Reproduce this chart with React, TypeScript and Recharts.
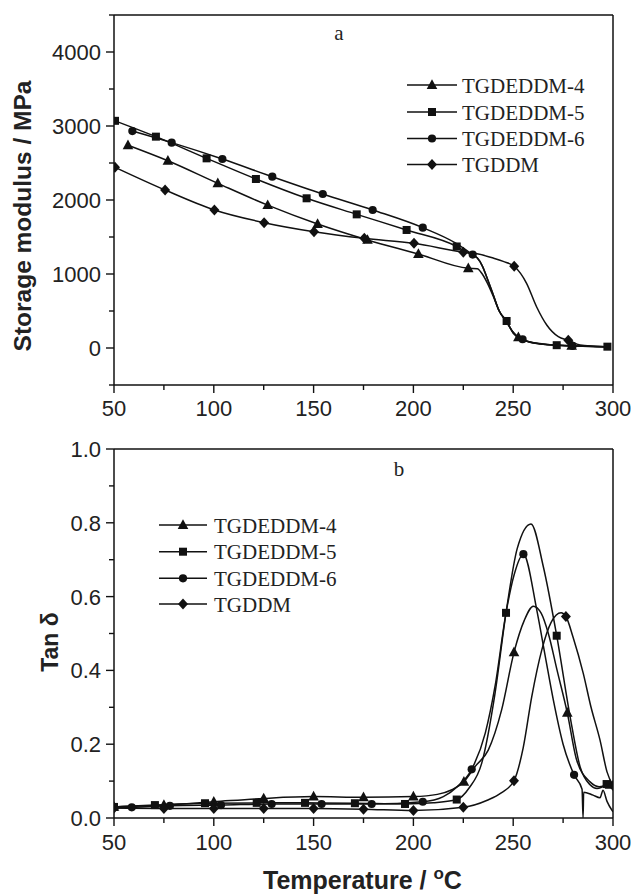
import React from 'react';
import { ComposedChart, Line, XAxis, YAxis, ReferenceLine, Label } from 'recharts';

// ---------- names ----------
const seriesNames = ['TGDEDDM-4', 'TGDEDDM-5', 'TGDEDDM-6', 'TGDDM'];
const shapes = ['triangle', 'square', 'circle', 'diamond'];

// ---------- axis ticks ----------
const tempTicks = [50, 75, 100, 125, 150, 175, 200, 225, 250, 275, 300];
const modulusTicks = [-500, 0, 500, 1000, 1500, 2000, 2500, 3000, 3500, 4000, 4500];
const tanTicks = [0, 0.1, 0.2, 0.3, 0.4, 0.5, 0.6, 0.7, 0.8, 0.9, 1.0];

// ---------- panel a: storage modulus (MPa) vs temperature (°C) ----------
const aE4Marks = [[57, 2740], [77, 2530], [102, 2225], [127, 1930], [152, 1675], [177, 1460], [202.5, 1270], [227.5, 1077], [252.6, 145], [279.3, 30]];
const aE4Curve = [[232, 1072], [234.5, 1000], [237, 880], [240, 700], [243, 500], [246.7, 350], [249.5, 230], [256, 100], [265, 55], [288, 22], [298, 18]];

const aE5Marks = [[50.5, 3070], [71, 2856], [96.4, 2563], [121.1, 2284], [146.5, 2023], [171.6, 1806], [196.6, 1595], [221.7, 1372], [246.7, 365], [271.8, 38], [297.2, 18]];
const aE5Curve = [[226, 1305], [229.5, 1255], [232, 1215], [234.5, 1110], [237, 940], [240, 720], [243, 500], [250, 200], [255, 110], [262, 62], [285, 22]];

const aE6Marks = [[59.2, 2932], [78.9, 2775], [104.3, 2554], [129.3, 2315], [154.6, 2081], [179.6, 1865], [204.7, 1626], [229.7, 1262], [254.7, 118], [279.7, 28]];
const aE6Curve = [[221, 1420], [232, 1218], [234.5, 1110], [237, 940], [240, 720], [243, 500], [246.7, 355], [250, 210], [262, 60], [290, 20], [298, 18]];

const aDMarks = [[50.5, 2442], [75.6, 2135], [100.3, 1865], [125.2, 1694], [150.2, 1572], [175.4, 1482], [200.3, 1414], [225, 1295], [250.5, 1104], [277.6, 105]];
const aDCurve = [[232.5, 1270], [240, 1215], [245, 1170], [256.7, 874], [261.7, 558], [266.8, 311], [272.6, 153], [283.5, 40], [290, 25], [298, 18]];

// ---------- panel b: tan delta vs temperature (°C) ----------
const bE4Marks = [[50, 0.03], [75, 0.035], [100, 0.044], [125, 0.053], [150, 0.058], [175, 0.056], [200, 0.058], [225.3, 0.098], [250.4, 0.449], [277.1, 0.285], [298.5, 0.09]];
const bE4Curve = [[212, 0.064], [219, 0.076], [231, 0.14], [237.5, 0.184], [244.2, 0.293], [255.5, 0.535], [260.1, 0.574], [264, 0.555], [267.6, 0.5], [272, 0.4], [281.8, 0.157], [288.5, 0.098], [293, 0.085]];

const bE5Marks = [[50, 0.03], [70.5, 0.035], [95.6, 0.04], [121.5, 0.041], [145.7, 0.041], [170.7, 0.04], [195.8, 0.038], [221.7, 0.05], [246.4, 0.556], [271.8, 0.494], [296.8, 0.092]];
const bE5Curve = [[210, 0.041], [228, 0.082], [234.2, 0.148], [240.9, 0.338], [252, 0.73], [258.9, 0.797], [265.1, 0.681], [278.5, 0.275], [283.5, 0.139], [288.5, 0.09], [292, 0.08]];

const bE6Marks = [[58.9, 0.029], [78, 0.033], [103.6, 0.035], [129, 0.038], [154, 0.038], [179.1, 0.038], [204.7, 0.044], [229.2, 0.132], [255.1, 0.715], [280.5, 0.117]];
const bE6Curve = [[50, 0.027], [215, 0.058], [222, 0.085], [236, 0.23], [241, 0.36], [246.4, 0.556], [250.5, 0.66], [261.8, 0.564], [266, 0.44], [270.1, 0.32], [275, 0.2], [284.5, 0.078], [285, 0.0], [285.3, 0.07], [290, 0.062], [293.5, 0.055], [295, 0.075], [297, 0.045], [300, 0.017]];

const bDMarks = [[50, 0.027], [75, 0.026], [100, 0.026], [125, 0.026], [150, 0.026], [175, 0.024], [200, 0.02], [225, 0.029], [250.4, 0.101], [276.4, 0.546], [300, 0.088]];
const bDCurve = [[237, 0.048], [244, 0.068], [255, 0.19], [259.3, 0.329], [264.3, 0.455], [269, 0.53], [274, 0.556], [280, 0.49], [285.1, 0.392], [289, 0.3], [293.5, 0.211], [297, 0.125]];

// ---------- helpers ----------
type Pt = { t: number; v: number; m: boolean };
const build = (marks: number[][], curve: number[][]): Pt[] =>
  [
    ...marks.map(([t, v]) => ({ t, v, m: true })),
    ...curve.map(([t, v]) => ({ t, v, m: false })),
  ].sort((a, b) => a.t - b.t);

const panelA = [build(aE4Marks, aE4Curve), build(aE5Marks, aE5Curve), build(aE6Marks, aE6Curve), build(aDMarks, aDCurve)];
const panelB = [build(bE4Marks, bE4Curve), build(bE5Marks, bE5Curve), build(bE6Marks, bE6Curve), build(bDMarks, bDCurve)];

const INK = '#111';
const SANS = '"Liberation Sans", Arial, Helvetica, sans-serif';
const SERIF = '"Liberation Serif", "Times New Roman", serif';

const Marker = ({ shape, cx, cy }: { shape: string; cx: number; cy: number }) => {
  if (shape === 'triangle')
    return <polygon points={`${cx},${cy - 5.8} ${cx - 5.3},${cy + 3.9} ${cx + 5.3},${cy + 3.9}`} fill={INK} />;
  if (shape === 'square') return <rect x={cx - 4} y={cy - 4} width={8} height={8} fill={INK} />;
  if (shape === 'circle') return <circle cx={cx} cy={cy} r={4.1} fill={INK} />;
  return <polygon points={`${cx},${cy - 5.5} ${cx + 5},${cy} ${cx},${cy + 5.5} ${cx - 5},${cy}`} fill={INK} />;
};

const dotFor = (shape: string) => (p: any) =>
  p.payload && p.payload.m && p.cx != null && p.cy != null ? (
    <Marker key={`d${p.index}`} shape={shape} cx={p.cx} cy={p.cy} />
  ) : (
    <g key={`d${p.index}`} />
  );

const makeXTick = (labelOffset: number) => (p: any) => {
  const v = p.payload.value;
  const major = v % 50 === 0;
  return (
    <g key={`xt${v}`}>
      <line x1={p.x} x2={p.x} y1={p.y} y2={p.y + (major ? 8 : 5)} stroke={INK} strokeWidth={1.4} />
      {major && (
        <text x={p.x} y={p.y + labelOffset} textAnchor="middle" fontSize={22} fontFamily={SANS} fill="#222">
          {v}
        </text>
      )}
    </g>
  );
};
const xTick = makeXTick(31);
const xTickB = makeXTick(32);

const yTickA = (p: any) => {
  const v = p.payload.value;
  const major = v % 1000 === 0;
  return (
    <g key={`ya${v}`}>
      <line x1={p.x} x2={p.x - (major ? 8 : 5)} y1={p.y} y2={p.y} stroke={INK} strokeWidth={1.4} />
      {major && (
        <text x={p.x - 13} y={p.y + 8} textAnchor="end" fontSize={22} fontFamily={SANS} fill="#222">
          {v}
        </text>
      )}
    </g>
  );
};

const yTickB = (p: any) => {
  const v = p.payload.value;
  const major = Math.round(v * 10) % 2 === 0;
  return (
    <g key={`yb${v}`}>
      <line x1={p.x} x2={p.x - (major ? 8 : 5)} y1={p.y} y2={p.y} stroke={INK} strokeWidth={1.4} />
      {major && (
        <text x={p.x - 13} y={p.y + 8} textAnchor="end" fontSize={22} fontFamily={SANS} fill="#222">
          {Number(v).toFixed(1)}
        </text>
      )}
    </g>
  );
};

const LegendBlock = ({ x1, x2, xm, xt, ys }: { x1: number; x2: number; xm: number; xt: number; ys: number[] }) => (
  <g>
    {seriesNames.map((n, i) => (
      <g key={n}>
        <line x1={x1} x2={x2} y1={ys[i]} y2={ys[i]} stroke={INK} strokeWidth={1.5} />
        <Marker shape={shapes[i]} cx={xm} cy={ys[i]} />
        <text x={xt} y={ys[i] + 7.5} fontSize={21} fontFamily={SERIF} fill="#222">
          {n}
        </text>
      </g>
    ))}
  </g>
);

const axisStyle = { stroke: INK, strokeWidth: 1.5 };

export default function App() {
  return (
    <div style={{ position: 'absolute', left: 0, top: 0, width: 636, height: 895, background: '#fff' }}>
      <div style={{ position: 'absolute', left: 0, top: 0 }}>
        <ComposedChart width={636} height={420} margin={{ top: 15, right: 23, bottom: 0, left: 0 }}>
          <XAxis
            dataKey="t"
            type="number"
            domain={[50, 300]}
            ticks={tempTicks}
            interval={0}
            allowDataOverflow
            height={35}
            tickSize={0}
            tickMargin={0}
            tickLine={false}
            axisLine={axisStyle}
            tick={xTick}
          />
          <YAxis
            dataKey="v"
            type="number"
            domain={[-500, 4500]}
            ticks={modulusTicks}
            interval={0}
            allowDataOverflow
            width={114}
            tickSize={0}
            tickMargin={0}
            tickLine={false}
            axisLine={axisStyle}
            tick={yTickA}
          >
            <Label
              content={() => (
                <text
                  transform="translate(31,216) rotate(-90)"
                  textAnchor="middle"
                  fontSize={24.5}
                  fontWeight="bold"
                  fontFamily={SANS}
                  fill="#222"
                >
                  Storage modulus / MPa
                </text>
              )}
            />
          </YAxis>
          <ReferenceLine y={4500} stroke={INK} strokeWidth={1.5} />
          <ReferenceLine x={300} stroke={INK} strokeWidth={1.5} />
          {panelA.map((d, i) => (
            <Line
              key={seriesNames[i]}
              data={d}
              dataKey="v"
              type="monotone"
              stroke={INK}
              strokeWidth={1.5}
              dot={dotFor(shapes[i])}
              activeDot={false}
              isAnimationActive={false}
            />
          ))}
          <text x={339} y={40} textAnchor="middle" fontSize={21} fontFamily={SERIF} fill="#222">
            a
          </text>
          <LegendBlock x1={407} x2={457} xm={432} xt={462} ys={[85, 112, 138.5, 164.5]} />
        </ComposedChart>
      </div>
      <div style={{ position: 'absolute', left: 0, top: 420 }}>
        <ComposedChart width={636} height={475} margin={{ top: 29, right: 23, bottom: 0, left: 0 }}>
          <XAxis
            dataKey="t"
            type="number"
            domain={[50, 300]}
            ticks={tempTicks}
            interval={0}
            allowDataOverflow
            height={77}
            tickSize={0}
            tickMargin={0}
            tickLine={false}
            axisLine={axisStyle}
            tick={xTickB}
          >
            <Label
              content={() => (
                <text x={263} y={469} textAnchor="start" fontSize={25} fontWeight="bold" fontFamily={SANS} fill="#222">
                  Temperature /{' '}
                  <tspan fontSize={17} dy={-10}>
                    o
                  </tspan>
                  <tspan dy={10}>C</tspan>
                </text>
              )}
            />
          </XAxis>
          <YAxis
            dataKey="v"
            type="number"
            domain={[0, 1]}
            ticks={tanTicks}
            interval={0}
            allowDataOverflow
            width={114}
            tickSize={0}
            tickMargin={0}
            tickLine={false}
            axisLine={axisStyle}
            tick={yTickB}
          >
            <Label
              content={() => (
                <text
                  transform="translate(58,222) rotate(-90)"
                  textAnchor="middle"
                  fontSize={23}
                  fontWeight="bold"
                  fontFamily={SANS}
                  fill="#222"
                >
                  Tan δ
                </text>
              )}
            />
          </YAxis>
          <ReferenceLine y={1} stroke={INK} strokeWidth={1.5} />
          <ReferenceLine x={300} stroke={INK} strokeWidth={1.5} />
          {panelB.map((d, i) => (
            <Line
              key={seriesNames[i]}
              data={d}
              dataKey="v"
              type="monotone"
              stroke={INK}
              strokeWidth={1.5}
              dot={dotFor(shapes[i])}
              activeDot={false}
              isAnimationActive={false}
            />
          ))}
          <text x={399} y={56} textAnchor="middle" fontSize={21} fontFamily={SERIF} fill="#222">
            b
          </text>
          <LegendBlock x1={159} x2={207} xm={183} xt={214} ys={[105, 131.7, 158.3, 184]} />
        </ComposedChart>
      </div>
    </div>
  );
}
